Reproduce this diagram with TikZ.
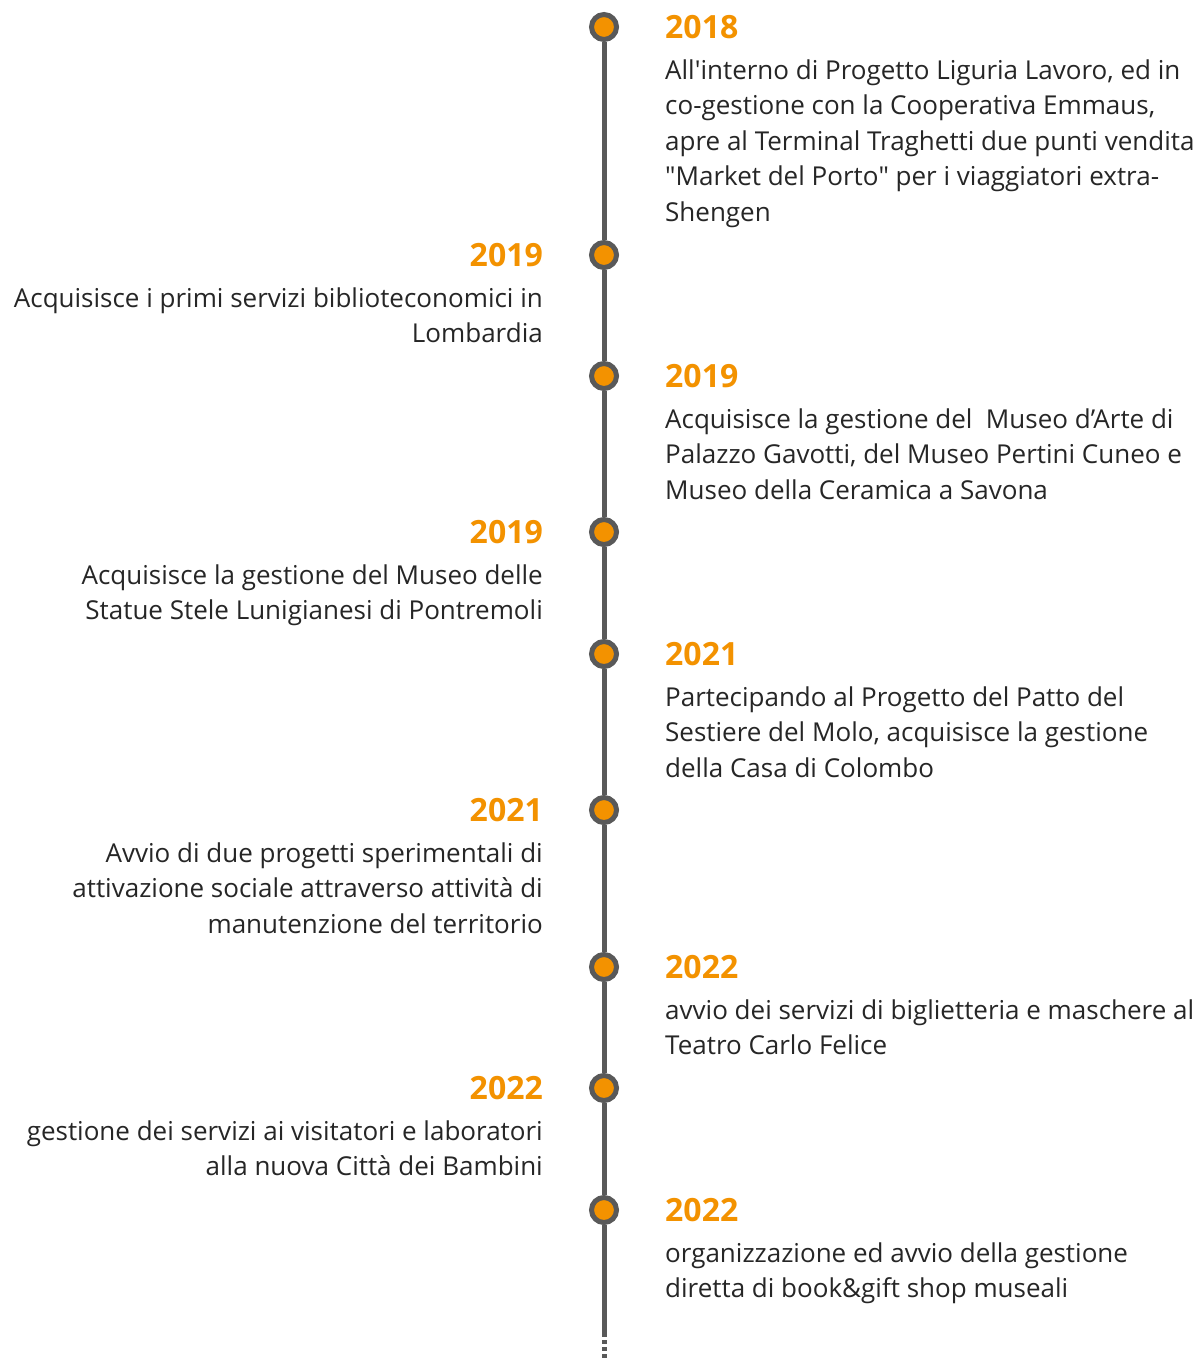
\documentclass[tikz,border=0pt]{standalone}
\usepackage{fontspec}
\setmainfont{Open Sans}
\definecolor{tlorange}{HTML}{F39200}
\definecolor{tlgray}{HTML}{595959}
\definecolor{tltext}{HTML}{262626}
\begin{document}
\begin{tikzpicture}[x=1pt,y=-1pt,
  dot/.style={circle,draw=tlgray,line width=5pt,fill=tlorange,minimum size=25pt,inner sep=0pt},
  axis/.style={draw=tlgray,line width=5pt},
  axisdash/.style={draw=tlgray,line width=5pt,dash pattern=on 4pt off 3pt},
  yearR/.style={text=tlorange,font=\fontsize{32}{38}\selectfont\bfseries,inner sep=0pt,anchor=west},
  yearL/.style={text=tlorange,font=\fontsize{32}{38}\selectfont\bfseries,inner sep=0pt,anchor=east},
  bodyR/.style={text=tltext,font=\fontsize{26}{35.5}\selectfont,align=left,anchor=north west,inner sep=0pt},
  bodyL/.style={text=tltext,font=\fontsize{26}{35.5}\selectfont,align=right,anchor=north east,inner sep=0pt}]
\useasboundingbox[fill=white] (0,0) rectangle (1200,1360);

\node[dot] (c1) at (604,27) {};
\node[dot] (c2) at (604,255) {};
\node[dot] (c3) at (604,376) {};
\node[dot] (c4) at (604,532) {};
\node[dot] (c5) at (604,654) {};
\node[dot] (c6) at (604,810) {};
\node[dot] (c7) at (604,967) {};
\node[dot] (c8) at (604,1088) {};
\node[dot] (c9) at (604,1210) {};
\coordinate (solidend) at (604,1333);
\coordinate (dashend) at (604,1360);

\draw[axis] (c1) -- (c2);
\draw[axis] (c2) -- (c3);
\draw[axis] (c3) -- (c4);
\draw[axis] (c4) -- (c5);
\draw[axis] (c5) -- (c6);
\draw[axis] (c6) -- (c7);
\draw[axis] (c7) -- (c8);
\draw[axis] (c8) -- (c9);
\draw[axis] (c9) -- (solidend);
\draw[axisdash] (solidend) -- (dashend);

\node[yearR] (y1) at (665,27) {2018};
\node[bodyR] (t1) at (665,54) {\strut All\textquotesingle interno di Progetto Liguria Lavoro, ed in\\co-gestione con la Cooperativa Emmaus,\\apre al Terminal Traghetti due punti vendita\\\textquotedbl Market del Porto\textquotedbl{} per i viaggiatori extra-\\Shengen};

\node[yearL] (y2) at (543,255) {2019};
\node[bodyL] (t2) at (543,282) {\strut Acquisisce i primi servizi biblioteconomici in\\Lombardia};

\node[yearR] (y3) at (665,376) {2019};
\node[bodyR] (t3) at (665,403) {\strut Acquisisce la gestione del\ \ Museo d’Arte di\\Palazzo Gavotti, del Museo Pertini Cuneo e\\Museo della Ceramica a Savona};

\node[yearL] (y4) at (543,532) {2019};
\node[bodyL] (t4) at (543,559) {\strut Acquisisce la gestione del Museo delle\\Statue Stele Lunigianesi di Pontremoli};

\node[yearR] (y5) at (665,654) {2021};
\node[bodyR] (t5) at (665,681) {\strut Partecipando al Progetto del Patto del\\Sestiere del Molo, acquisisce la gestione\\della Casa di Colombo};

\node[yearL] (y6) at (543,810) {2021};
\node[bodyL] (t6) at (543,837) {\strut Avvio di due progetti sperimentali di\\attivazione sociale attraverso attività di\\manutenzione del territorio};

\node[yearR] (y7) at (665,967) {2022};
\node[bodyR] (t7) at (665,994) {\strut avvio dei servizi di biglietteria e maschere al\\Teatro Carlo Felice};

\node[yearL] (y8) at (543,1088) {2022};
\node[bodyL] (t8) at (543,1115) {\strut gestione dei servizi ai visitatori e laboratori\\alla nuova Città dei Bambini};

\node[yearR] (y9) at (665,1210) {2022};
\node[bodyR] (t9) at (665,1237) {\strut organizzazione ed avvio della gestione\\diretta di book\&gift shop museali};
\end{tikzpicture}
\end{document}
